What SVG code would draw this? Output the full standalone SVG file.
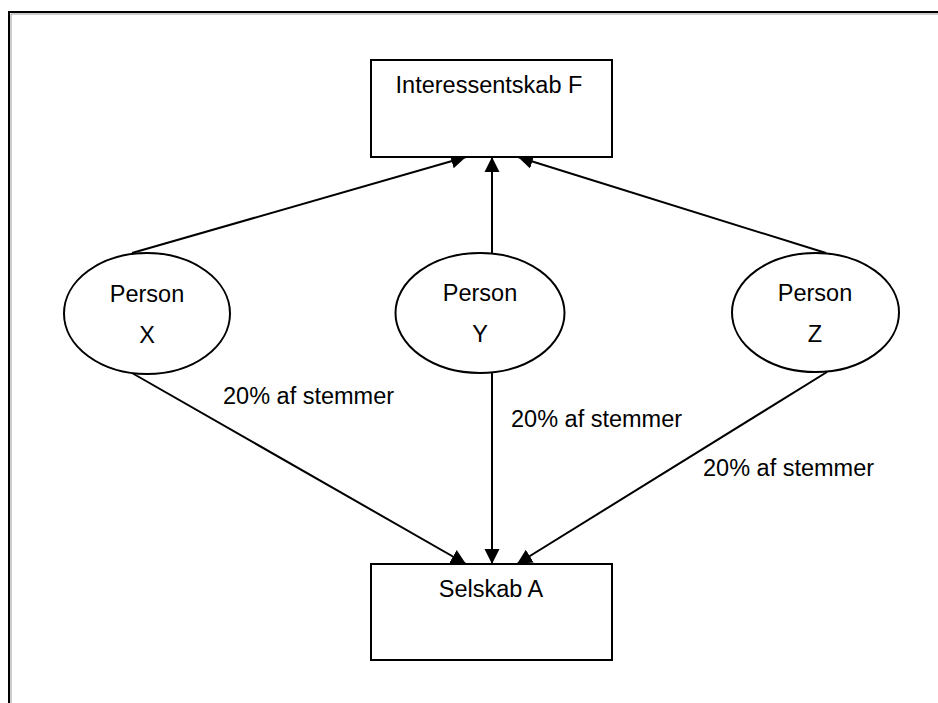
<svg xmlns="http://www.w3.org/2000/svg" width="938" height="703" viewBox="0 0 938 703">
  <style>
    .box { fill: #ffffff; stroke: #000000; stroke-width: 2; }
    .oval { fill: #ffffff; stroke: #000000; stroke-width: 2; }
    .edge { fill: none; stroke: #000000; stroke-width: 2; }
    .lbl { font-family: "Liberation Sans", Arial, sans-serif; font-size: 23.5px; fill: #000000; }
    .mid { text-anchor: middle; }
  </style>
  <defs>
    <marker id="arrow" markerUnits="userSpaceOnUse" markerWidth="16" markerHeight="16" viewBox="0 0 16 16" refX="15" refY="8" orient="auto">
      <path d="M0,0.5 L15,8 L0,15.5 Z" fill="#000000"/>
    </marker>
  </defs>

  <rect width="938" height="703" fill="#ffffff"/>

  <!-- page frame -->
  <path d="M11,703 V14 H938" fill="none" stroke="#9a9a9a" stroke-width="1"/>
  <path d="M9,703 V12 H938" fill="none" stroke="#000000" stroke-width="2"/>

  <g id="connectors">
    <line class="edge" x1="132" y1="253" x2="466" y2="157" marker-end="url(#arrow)"/>
    <line class="edge" x1="492" y1="253" x2="492" y2="157" marker-end="url(#arrow)"/>
    <line class="edge" x1="826" y1="253" x2="518" y2="157" marker-end="url(#arrow)"/>
    <line class="edge" x1="132" y1="373" x2="466" y2="564" marker-end="url(#arrow)"/>
    <line class="edge" x1="492" y1="373" x2="492" y2="564" marker-end="url(#arrow)"/>
    <line class="edge" x1="827" y1="372" x2="517" y2="564" marker-end="url(#arrow)"/>
    <text class="lbl" x="223" y="404">20% af stemmer</text>
    <text class="lbl" x="511" y="427">20% af stemmer</text>
    <text class="lbl" x="703" y="476">20% af stemmer</text>
  </g>

  <g id="interessentskab-f">
    <rect class="box" x="371" y="60" width="241" height="97"/>
    <text class="lbl mid" x="489" y="93">Interessentskab F</text>
  </g>

  <g id="person-x">
    <ellipse class="oval" cx="147" cy="313.5" rx="83" ry="60.5"/>
    <text class="lbl mid" x="147" y="302">Person</text>
    <text class="lbl mid" x="147" y="343">X</text>
  </g>

  <g id="person-y">
    <ellipse class="oval" cx="480" cy="313" rx="84.5" ry="60"/>
    <text class="lbl mid" x="480" y="301">Person</text>
    <text class="lbl mid" x="480" y="342">Y</text>
  </g>

  <g id="person-z">
    <ellipse class="oval" cx="815.5" cy="312.5" rx="83.5" ry="59.5"/>
    <text class="lbl mid" x="815" y="301">Person</text>
    <text class="lbl mid" x="815" y="342">Z</text>
  </g>

  <g id="selskab-a">
    <rect class="box" x="371" y="564" width="241" height="96"/>
    <text class="lbl mid" x="491" y="597">Selskab A</text>
  </g>
</svg>
